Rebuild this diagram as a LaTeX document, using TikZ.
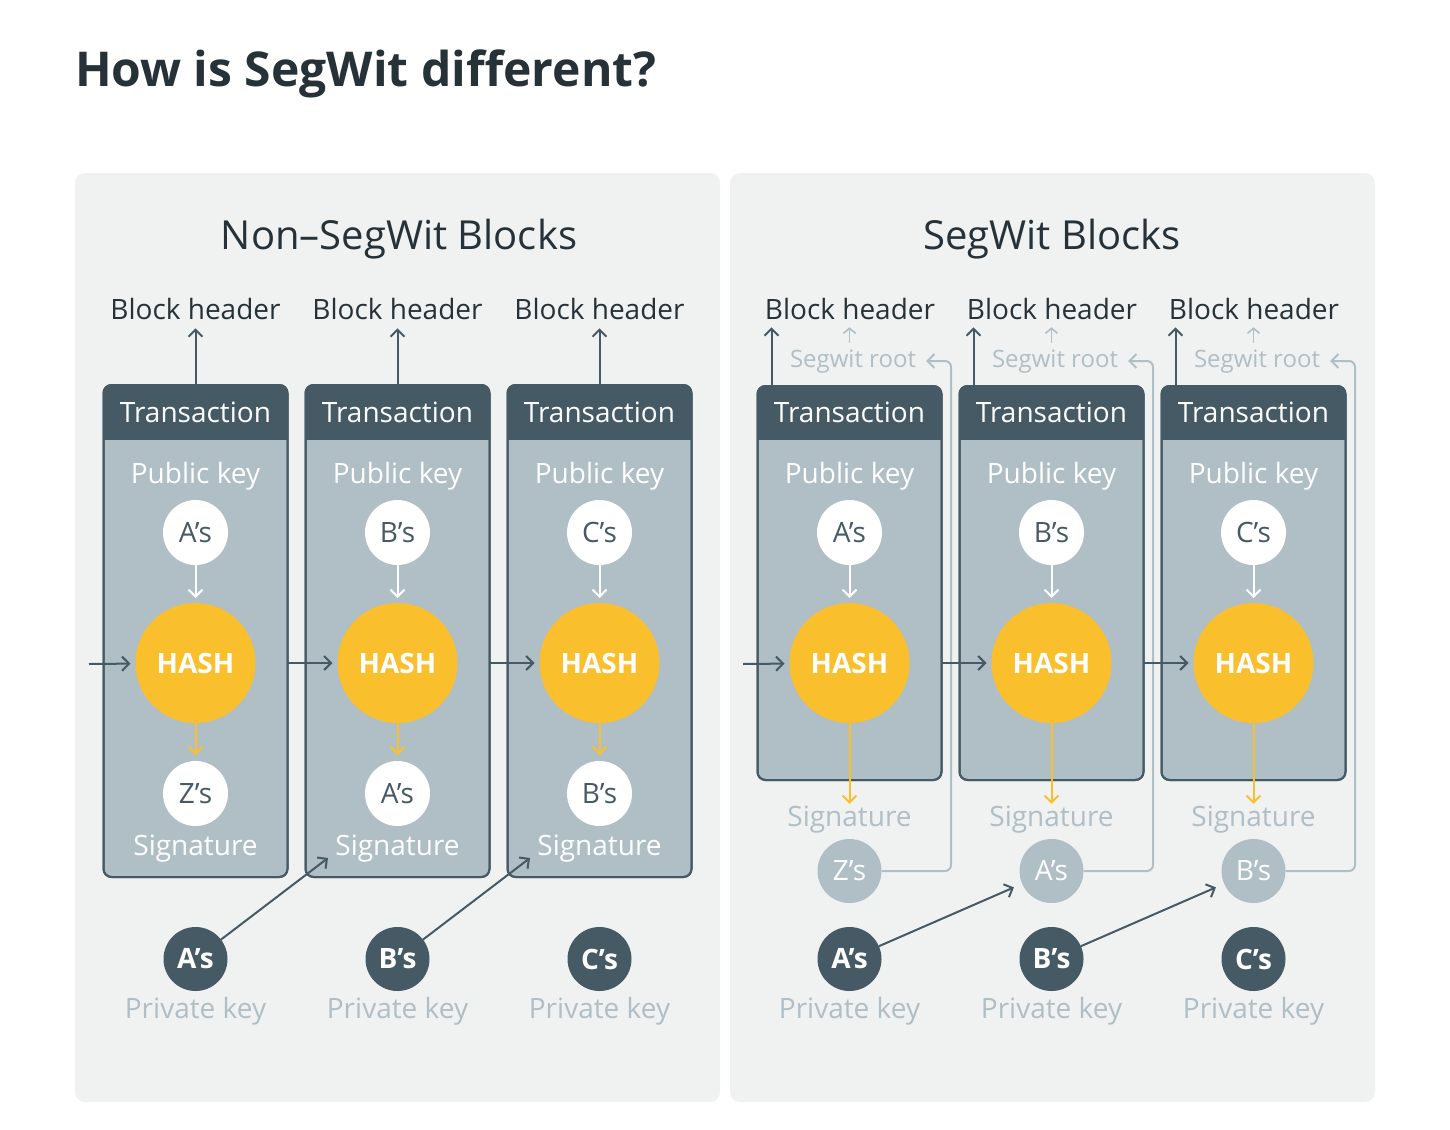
\documentclass[tikz,border=0pt]{standalone}
\usepackage{fontspec}
\setmainfont{Open Sans}
\usetikzlibrary{arrows.meta}
\definecolor{dark}{HTML}{455A64}
\definecolor{body}{HTML}{B0BEC5}
\definecolor{panelbg}{HTML}{F0F2F2}
\definecolor{hashor}{HTML}{F9BF2D}
\definecolor{textdark}{HTML}{263238}
\newcommand\myfs[1]{\fontsize{#1}{#1}\selectfont}
\tikzset{
  panel/.style={fill=panelbg, rounded corners=10pt},
  txb/.style={rectangle, draw=dark, fill=body, line width=2pt, rounded corners=8pt, minimum width=184pt, inner sep=0pt, outer sep=0pt},
  txt/.style={inner sep=0pt, outer sep=0pt, anchor=base, font=\myfs{28}},
  pubc/.style={circle, fill=white, minimum size=65pt, inner sep=0pt, outer sep=0pt, text=dark, font=\myfs{28}},
  lsigc/.style={circle, fill=body, minimum size=64pt, inner sep=0pt, outer sep=0pt, text=white, font=\myfs{28}},
  hashc/.style={circle, fill=hashor, minimum size=120pt, inner sep=0pt, outer sep=0pt, text=white, font=\myfs{28}\bfseries},
  privc/.style={circle, fill=dark, minimum size=64pt, inner sep=0pt, outer sep=0pt, text=white, font=\myfs{28}\bfseries},
  arr/.style={line width=2pt, -{Straight Barb[length=7pt,width=14pt]}},
  sarr/.style={line width=1.6pt, -{Straight Barb[length=5pt,width=12pt]}},
}
\begin{document}
\begin{tikzpicture}[x=1pt,y=-1pt]
\useasboundingbox (0,0) rectangle (1450,1129);
\fill[white] (0,0) rectangle (1450,1129);
\node[txt, anchor=base west, font=\myfs{48}\bfseries, text=textdark] (title) at (75,87) {How is SegWit different?};
\path[panel] (75,173) rectangle (720,1102);
\path[panel] (730,173) rectangle (1375,1102);
\node[txt, font=\myfs{40}, text=textdark] (Ltitle) at (399,249) {Non–SegWit Blocks};
\node[txt, font=\myfs{40}, text=textdark] (Rtitle) at (1052,249) {SegWit Blocks};
% ---------------- left panel ----------------
\foreach \i/\cx/\p/\s in {1/195.5/A/Z,2/397.5/B/A,3/599.5/C/B}{
  \node[txb, minimum height=492pt] (Lbox\i) at (\cx,631) {};
  \begin{scope}
    \clip[rounded corners=8pt] (Lbox\i.south west) rectangle (Lbox\i.north east);
    \fill[dark] (Lbox\i.north west) rectangle (Lbox\i.east |- 0,440);
  \end{scope}
  \draw[dark, line width=2pt, rounded corners=8pt] (Lbox\i.south west) rectangle (Lbox\i.north east);
  \node[txt, text=white] (Ltx\i) at (\cx,422) {Transaction};
  \node[txt, text=white] (Lpk\i) at (\cx,483) {Public key};
  \node[pubc] (Lpub\i) at (\cx,532.5) {\p’s};
  \node[hashc] (Lhash\i) at (\cx,663) {HASH};
  \node[pubc] (Lsig\i) at (\cx,793.5) {\s’s};
  \node[txt, text=white] (Lsigt\i) at (\cx,855) {Signature};
  \draw[arr, white, shorten >=5pt] (Lpub\i) -- (Lhash\i);
  \draw[arr, hashor, shorten >=6pt] (Lhash\i) -- (Lsig\i);
  \node[txt, text=textdark] (Lbh\i) at (\cx,319) {Block header};
  \draw[arr, dark, shorten >=9pt] (Lbox\i.north) -- (Lbh\i.south);
  \node[privc] (Lpriv\i) at (\cx,959) {\p’s};
  \node[txt, text=body] (Lpt\i) at (\cx,1018) {Private key};
}
\coordinate (Lstart) at (89,664);
\draw[arr, dark, shorten >=5pt] (Lstart) -- (Lhash1);
\draw[arr, dark, shorten >=5pt] (Lbox1.east |- Lhash2) -- (Lhash2);
\draw[arr, dark, shorten >=5pt] (Lbox2.east |- Lhash3) -- (Lhash3);
\coordinate (Ltip2) at (328,858);
\coordinate (Ltip3) at (530,858);
\draw[arr, dark] (Lpriv1) -- (Ltip2);
\draw[arr, dark] (Lpriv2) -- (Ltip3);
% ---------------- right panel ----------------
\foreach \i/\cx/\p/\s in {1/849.5/A/Z,2/1051.5/B/A,3/1253.5/C/B}{
  \node[txb, minimum height=394pt] (Rbox\i) at (\cx,583) {};
  \begin{scope}
    \clip[rounded corners=8pt] (Rbox\i.south west) rectangle (Rbox\i.north east);
    \fill[dark] (Rbox\i.north west) rectangle (Rbox\i.east |- 0,440);
  \end{scope}
  \draw[dark, line width=2pt, rounded corners=8pt] (Rbox\i.south west) rectangle (Rbox\i.north east);
  \node[txt, text=white] (Rtx\i) at (\cx,422) {Transaction};
  \node[txt, text=white] (Rpk\i) at (\cx,483) {Public key};
  \node[pubc] (Rpub\i) at (\cx,532.5) {\p’s};
  \node[hashc] (Rhash\i) at (\cx,663) {HASH};
  \node[txt, text=body] (Rsigt\i) at (\cx,826) {Signature};
  \node[lsigc] (Rsig\i) at (\cx,871) {\s’s};
  \draw[arr, white, shorten >=5pt] (Rpub\i) -- (Rhash\i);
  \draw[arr, hashor, shorten >=1.5pt] (Rhash\i) -- (Rsigt\i.north);
  \node[txt, text=textdark] (Rbh\i) at (\cx+0.5,319) {Block header};
  \coordinate (Rup\i) at ([xshift=14pt]Rbox\i.north west);
  \draw[arr, dark, shorten >=8pt] (Rup\i) -- (Rup\i |- Rbh\i.south);
  \node[txt, text=body, font=\myfs{24}] (Rsr\i) at (\cx+3.5,367) {Segwit root};
  \draw[sarr, body, shorten <=6pt, shorten >=8pt] (Rbox\i.north |- Rsr\i.north) -- (Rbox\i.north |- Rbh\i.south);
  \coordinate (Rcorner\i) at (\cx+101.5,361);
  \draw[arr, body, rounded corners=6pt, shorten >=10pt] (Rsig\i.east) -| (Rcorner\i) -- (Rcorner\i -| Rsr\i.east);
  \node[privc] (Rpriv\i) at (\cx,959) {\p’s};
  \node[txt, text=body] (Rpt\i) at (\cx,1018) {Private key};
}
\coordinate (Rstart) at (743,664);
\draw[arr, dark, shorten >=5pt] (Rstart) -- (Rhash1);
\draw[arr, dark, shorten >=5pt] (Rbox1.east |- Rhash2) -- (Rhash2);
\draw[arr, dark, shorten >=5pt] (Rbox2.east |- Rhash3) -- (Rhash3);
\draw[arr, dark, shorten >=9pt] (Rpriv1) -- (Rsig2);
\draw[arr, dark, shorten >=9pt] (Rpriv2) -- (Rsig3);
\end{tikzpicture}
\end{document}
